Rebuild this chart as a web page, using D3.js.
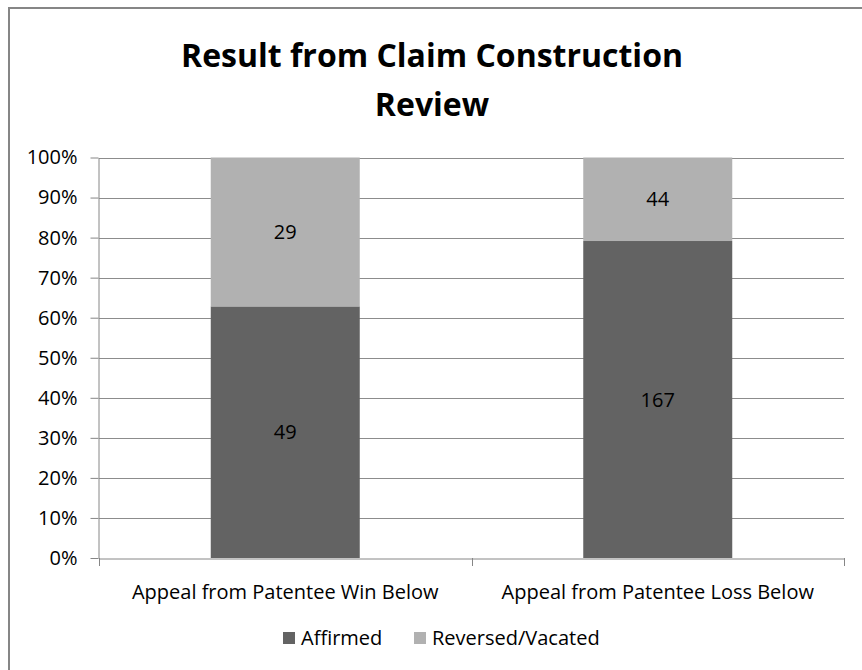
<!DOCTYPE html>
<html><head><meta charset="utf-8">
<script src="https://cdn.jsdelivr.net/npm/d3@7"></script>
<style>body{margin:0;background:#fff}svg{display:block}</style>
</head><body>
<svg id="c" width="862" height="670"></svg>
<script>
const categories = ["Appeal from Patentee Win Below", "Appeal from Patentee Loss Below"];
const seriesNames = ["Affirmed", "Reversed/Vacated"];
const affirmed = [49, 167];
const reversed = [29, 44];
const yTicks = [0, 0.1, 0.2, 0.3, 0.4, 0.5, 0.6, 0.7, 0.8, 0.9, 1.0];
const titleLines = ["Result from Claim Construction", "Review"];
const colors = ["#636363", "#b1b1b1"];

const FONT = "'Open Sans', sans-serif";
const FS = 20;
const svg = d3.select("#c");
// chart border (only top and left edges fall inside the picture)
svg.append("path").attr("d", "M9,670V8H862").attr("fill", "none")
  .attr("stroke", "#868686").attr("stroke-width", 2);

const m = {left: 99, right: 844, top: 157.5, bottom: 558};
const x = d3.scaleBand().domain(categories).range([m.left, m.right]).paddingInner(0.6).paddingOuter(0.3);
const y = d3.scaleLinear().domain([0, 1]).range([m.bottom, m.top]);

const rows = categories.map((c, i) => ({cat: c, Affirmed: affirmed[i], "Reversed/Vacated": reversed[i]}));
const stacked = d3.stack().keys(seriesNames).offset(d3.stackOffsetExpand)(rows);

// gridlines
svg.append("g").selectAll("line").data(yTicks.slice(1)).join("line")
  .attr("x1", m.left).attr("x2", m.right)
  .attr("y1", d => Math.round(y(d)) + 0.5).attr("y2", d => Math.round(y(d)) + 0.5)
  .attr("stroke", "#8c8c8c").attr("stroke-width", 1);

// bars
stacked.forEach((s, si) => {
  svg.append("g").selectAll("rect").data(s).join("rect")
    .attr("x", d => x(d.data.cat)).attr("width", x.bandwidth())
    .attr("y", d => y(d[1])).attr("height", d => y(d[0]) - y(d[1]))
    .attr("fill", colors[si]);
  svg.append("g").selectAll("text").data(s).join("text")
    .attr("x", d => x(d.data.cat) + x.bandwidth() / 2)
    .attr("y", d => y((d[0] + d[1]) / 2))
    .attr("dy", "0.35em").attr("text-anchor", "middle")
    .attr("font-family", FONT).attr("font-size", FS).attr("fill", "#000")
    .text(d => d.data[s.key]);
});

// y axis
const ya = svg.append("g").attr("transform", `translate(${m.left - 0.5},0)`)
  .call(d3.axisLeft(y).tickValues(yTicks).tickFormat(d3.format(".0%")).tickSize(8).tickSizeOuter(0));
ya.select(".domain").attr("stroke", "#868686");
ya.selectAll(".tick line").attr("stroke", "#868686");
ya.selectAll(".tick text").attr("font-family", FONT).attr("font-size", FS).attr("fill", "#000").attr("x", -21);

// x axis
const xa = svg.append("g").attr("transform", `translate(0,${Math.round(m.bottom) + 0.5})`)
  .call(d3.axisBottom(x).tickSize(0).tickSizeOuter(0));
xa.select(".domain").attr("stroke", "#868686");
xa.selectAll(".tick text").attr("font-family", FONT).attr("font-size", FS).attr("fill", "#000")
  .attr("y", 26);
// category boundary ticks
const bounds = [m.left, (m.left + m.right) / 2, m.right];
svg.append("g").selectAll("line").data(bounds).join("line")
  .attr("x1", d => Math.round(d) + 0.5).attr("x2", d => Math.round(d) + 0.5)
  .attr("y1", m.bottom).attr("y2", m.bottom + 8).attr("stroke", "#868686");

// title
svg.append("g").selectAll("text").data(titleLines).join("text")
  .attr("x", 432).attr("y", (d, i) => 67 + i * 49)
  .attr("text-anchor", "middle").attr("font-family", FONT).attr("font-weight", "bold")
  .attr("font-size", 32).attr("fill", "#000").text(d => d);

// legend
const lg = svg.append("g");
const legendX = [283, 414];
seriesNames.forEach((n, i) => {
  lg.append("rect").attr("x", legendX[i]).attr("y", 632).attr("width", 12).attr("height", 12).attr("fill", colors[i]);
  lg.append("text").attr("x", legendX[i] + 18).attr("y", 645)
    .attr("font-family", FONT).attr("font-size", FS).attr("fill", "#000").text(n);
});
</script>
</body></html>
